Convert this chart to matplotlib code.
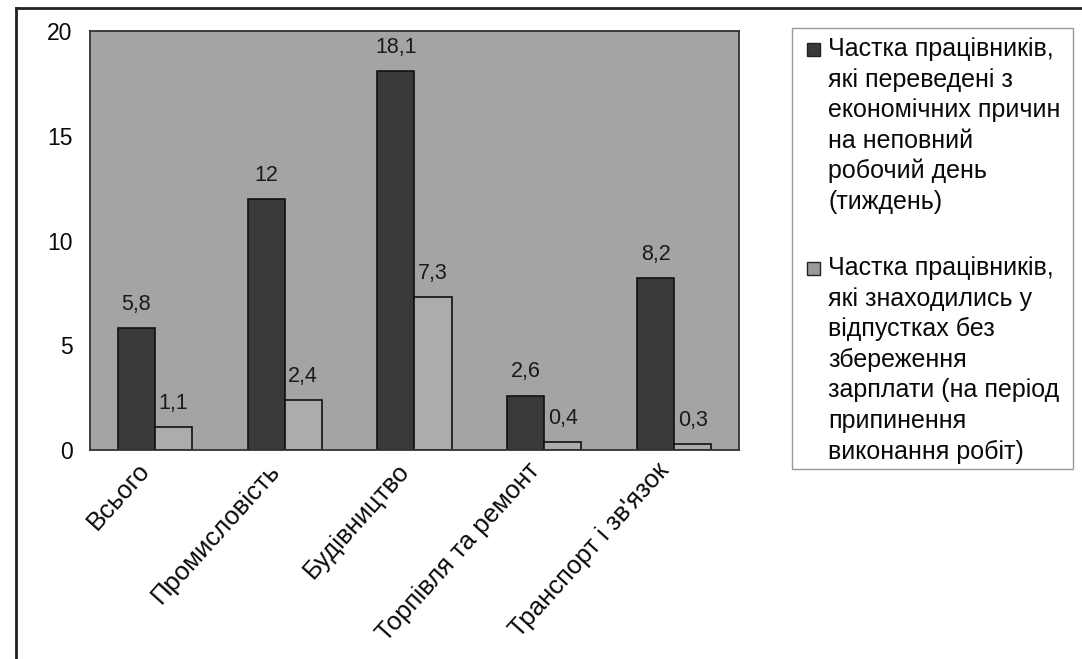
import matplotlib
matplotlib.use("Agg")
import matplotlib.pyplot as plt
from matplotlib.patches import Rectangle
from matplotlib.lines import Line2D
import numpy as np

# ---- data ----
categories = ["Всього", "Промисловість", "Будівництво", "Торпівля та ремонт", "Транспорт і зв'язок"]
part_time = [5.8, 12, 18.1, 2.6, 8.2]
unpaid_leave = [1.1, 2.4, 7.3, 0.4, 0.3]
series_names = [
    "Частка працівників,\nякі переведені з\nекономічних причин\nна неповний\nробочий день\n(тиждень)",
    "Частка працівників,\nякі знаходились у\nвідпустках без\nзбереження\nзарплати (на період\nприпинення\nвиконання робіт)",
]
y_ticks = [0, 5, 10, 15, 20]

# ---- style ----
plt.rcParams['font.family'] = ['Liberation Sans', 'DejaVu Sans']
W, H = 1082, 659
fig = plt.figure(figsize=(W / 100, H / 100), dpi=100, facecolor="white")

def fx(px):
    return px / W

def fy(py):
    return 1 - py / H

ax = fig.add_axes([fx(90), fy(450), fx(739) - fx(90), fy(31) - fy(450)])
ax.set_facecolor("#a4a4a4")

dark = "#3a3a3a"
light = "#acacac"
txt = "#0a0a0a"
x = np.arange(len(categories))
w = 0.2857
b1 = ax.bar(x - w / 2, part_time, width=w, color=dark, edgecolor="#111111", linewidth=1.2)
b2 = ax.bar(x + w / 2, unpaid_leave, width=w, color=light, edgecolor="#111111", linewidth=1.2)

def fmt(v):
    return ("%g" % v).replace(".", ",")

for bars, vals in ((b1, part_time), (b2, unpaid_leave)):
    for r, v in zip(bars, vals):
        ax.annotate(fmt(v), (r.get_x() + r.get_width() / 2, r.get_height()),
                    xytext=(0, 13), textcoords="offset points",
                    ha="center", va="baseline", fontsize=15.5, color="#1a1a1a")

ax.set_xlim(-0.5, len(categories) - 0.5)
ax.set_ylim(0, 20)
ax.set_yticks(y_ticks)
ax.set_yticklabels([str(t) for t in y_ticks], fontsize=16.5, color=txt)
ax.set_xticks(x)
ax.set_xticklabels(categories, rotation=48, ha="right", fontsize=18.5, color=txt)
ax.tick_params(axis="both", length=0)
ax.tick_params(axis="y", pad=12.5)
ax.tick_params(axis="x", pad=6)
for s in ax.spines.values():
    s.set_color("#333333")
    s.set_linewidth(1.3)

# ---- legend (manual, Excel-style) ----
fig.add_artist(Rectangle((fx(792), fy(469)), fx(1073) - fx(792), fy(28) - fy(469),
                         transform=fig.transFigure, facecolor="none",
                         edgecolor="#999999", linewidth=1.0))
line_step = 30.6
starts = [56, 275]
colors = [dark, "#9a9a9a"]
for name, base, col in zip(series_names, starts, colors):
    fig.add_artist(Rectangle((fx(807), fy(base)), fx(13), 13 / H,
                             transform=fig.transFigure, facecolor=col,
                             edgecolor="#222222", linewidth=1.0))
    for i, ln in enumerate(name.split("\n")):
        fig.text(fx(828), fy(base + i * line_step), ln, fontsize=18,
                 ha="left", va="baseline", color=txt)

# ---- outer frame ----
fig.add_artist(Line2D([fx(16), fx(16)], [fy(8), 0], transform=fig.transFigure,
                      color="#222222", linewidth=2))
fig.add_artist(Line2D([fx(16), 1], [fy(8), fy(8)], transform=fig.transFigure,
                      color="#222222", linewidth=2))

fig.savefig("out.png", dpi=100, facecolor="white")
